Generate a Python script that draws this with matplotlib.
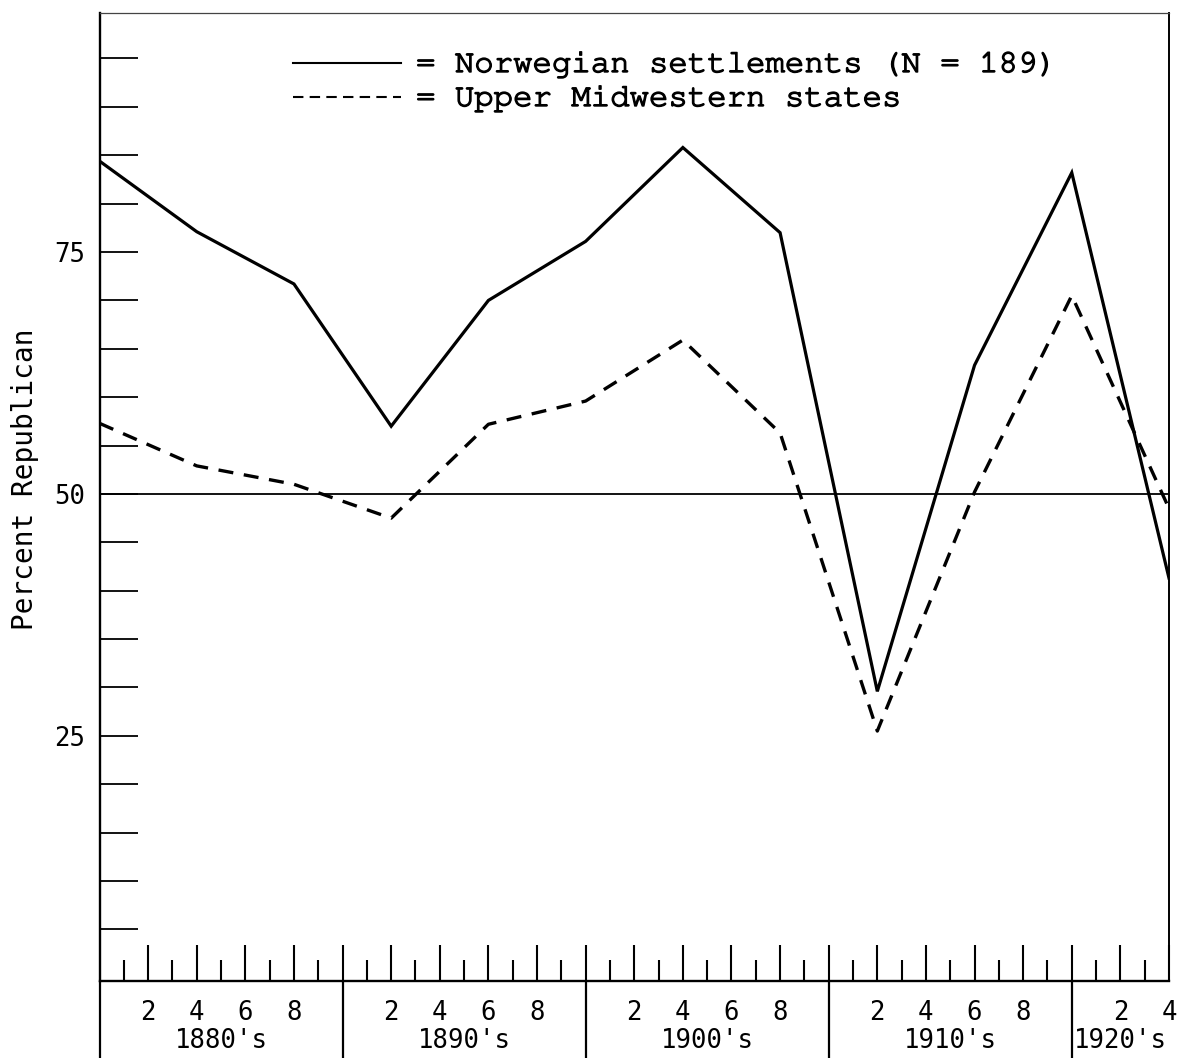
"""Percent Republican: Norwegian settlements vs Upper Midwestern states, 1880-1924."""

import matplotlib
matplotlib.use("Agg")
import matplotlib.pyplot as plt
import matplotlib.transforms as mtransforms
import matplotlib.patheffects as pe
from matplotlib import font_manager
from matplotlib.lines import Line2D

# presidential election years
years = [1880, 1884, 1888, 1892, 1896, 1900, 1904, 1908, 1912, 1916, 1920, 1924]
norwegian = [84.4, 77.1, 71.7, 57.0, 70.0, 76.1, 85.8, 77.0, 29.6, 63.3, 83.2, 41.3]
midwest = [57.3, 52.9, 51.0, 47.5, 57.2, 59.6, 65.9, 56.3, 25.5, 50.2, 70.5, 48.5]

y_ticks = list(range(5, 100, 5))
y_labels_shown = {25: "25", 50: "50", 75: "75"}
decades = [1880, 1890, 1900, 1910, 1920]
decade_labels = ["1880's", "1890's", "1900's", "1910's", "1920's"]
decade_label_x = [1885, 1895, 1905, 1915, 1922]
legend_labels = ["= Norwegian settlements (N = 189)", "= Upper Midwestern states"]

W, H = 1177, 1058
MONO_SANS = "DejaVu Sans Mono"


def first_font(names, default):
    for n in names:
        try:
            font_manager.findfont(n, fallback_to_default=False)
            return n
        except Exception:
            continue
    return default


# the legend was typed on a courier-style typewriter
TYPEWRITER = first_font(["Courier New", "Nimbus Mono PS", "Nimbus Mono L",
                         "FreeMono", "Courier", "Liberation Mono"], "DejaVu Sans Mono")


def px(x, y):
    """pixel (from top-left) -> figure fraction"""
    return x / W, 1 - y / H


fig = plt.figure(figsize=(W / 100, H / 100), dpi=100)
left, right, top, bottom = 99.5, 1169, 13, 980.7
ax = fig.add_axes([left / W, 1 - bottom / H, (right - left) / W, (bottom - top) / H])

ax.plot(years, norwegian, color="black", lw=2.3, solid_joinstyle="miter")
ax.plot(years, midwest, color="black", lw=2.4, dashes=(4.5, 3.2))
ax.axhline(50, color="black", lw=1.3)

ax.set_xlim(1880, 1924)
ax.set_ylim(-0.3, 99.7)

for side, lw in [("left", 1.7), ("bottom", 1.7), ("right", 1.4), ("top", 0.9)]:
    ax.spines[side].set_linewidth(lw)
ax.spines["top"].set_color("#444444")

# y axis: inward ticks every 5, labels only at the quartiles
ax.set_yticks(y_ticks)
ax.set_yticklabels([y_labels_shown.get(v, "") for v in y_ticks],
                   fontfamily=MONO_SANS, fontsize=18.5)
ax.tick_params(axis="y", direction="in", length=27, width=1.3, pad=10)

# x axis: tall ticks on even years, short ones on odd years
even_years = list(range(1882, 1925, 2))
ax.set_xticks(even_years)
ax.set_xticklabels([str(y % 10) if y % 10 else "" for y in even_years],
                   fontfamily=MONO_SANS, fontsize=18.5)
ax.set_xticks(list(range(1881, 1924, 2)), minor=True)
ax.tick_params(axis="x", which="major", direction="in", length=26, width=1.5, pad=14)
ax.tick_params(axis="x", which="minor", direction="in", length=15, width=1.5)

# decade separators below the axis, and decade names
trans = mtransforms.blended_transform_factory(ax.transData, ax.transAxes)
for d in decades:
    ax.plot([d, d], [0, -0.09], transform=trans, color="black", lw=1.6,
            clip_on=False, solid_capstyle="butt")
for xd, lab in zip(decade_label_x, decade_labels):
    ax.text(xd, 1 - 1041 / H, lab, transform=mtransforms.blended_transform_factory(
        ax.transData, fig.transFigure), ha="center", va="center",
        fontfamily=MONO_SANS, fontsize=18.5)

fig.text(*px(25, 479), "Percent Republican", rotation=90, ha="center", va="center",
         fontfamily=MONO_SANS, fontsize=20)

# hand-typed legend; thicken the thin courier strokes a little
ink = [pe.withStroke(linewidth=1.0, foreground="black")]
for (y, lab, style) in [(63, legend_labels[0], "-"), (97, legend_labels[1], "--")]:
    x0, y0 = px(293, y)
    x1, _ = px(401, y)
    kw = dict(color="black", lw=1.5)
    if style == "--":
        kw["dashes"] = (5, 3)
    fig.add_artist(Line2D([x0, x1], [y0, y0], transform=fig.transFigure, **kw))
    fig.text(*px(416, y + 2), lab, ha="left", va="center",
             fontfamily=TYPEWRITER, fontsize=23.3, path_effects=ink)

fig.savefig("out.png", dpi=100)
